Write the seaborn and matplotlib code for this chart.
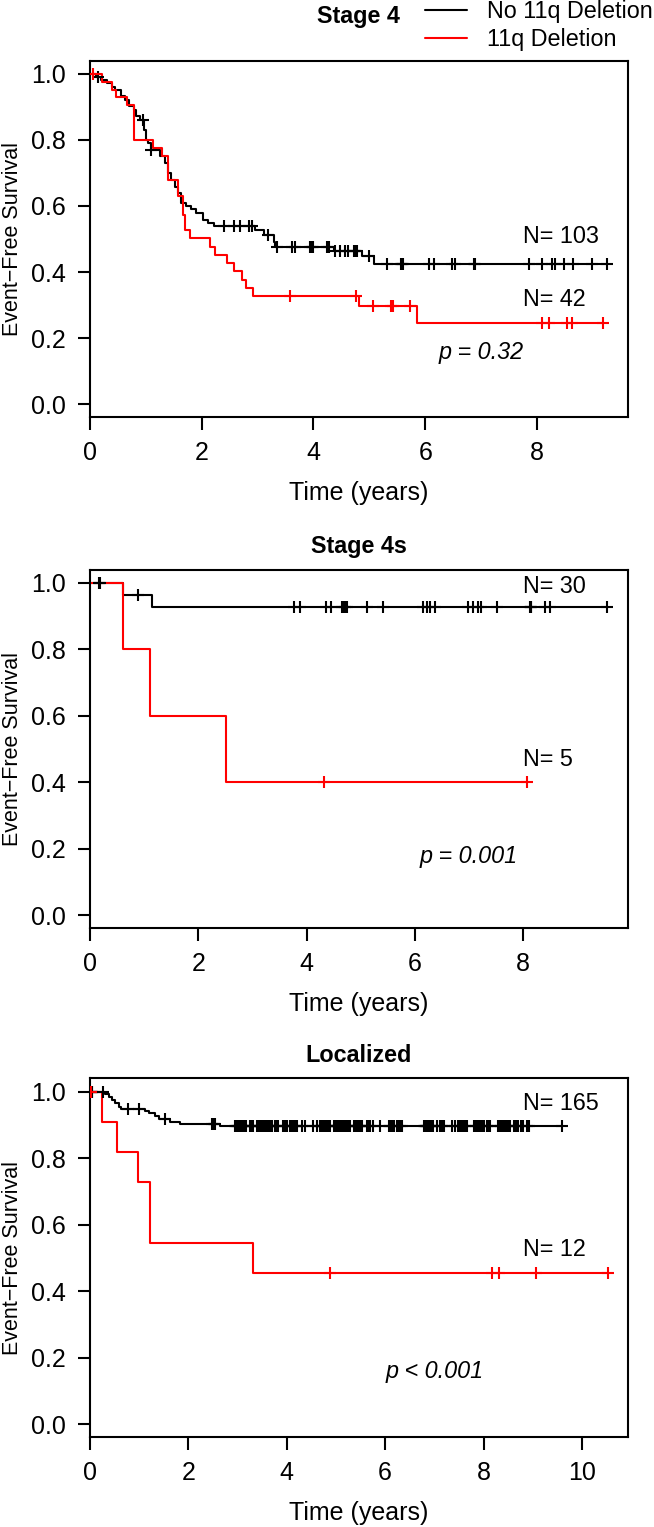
import numpy as np
import pandas as pd
import seaborn as sns
import matplotlib.pyplot as plt
from matplotlib.lines import Line2D

# ---- data ----
# Stage 4
s4_no_t = [0.10, 0.20, 0.30, 0.40, 0.45, 0.55, 0.62, 0.70, 0.78, 0.83, 0.90, 0.97, 1.00, 1.04, 1.09,
           1.25, 1.35, 1.40, 1.45, 1.52, 1.58, 1.62, 1.72, 1.80, 1.90, 2.02, 2.12, 2.22,
           2.95, 3.12, 3.29, 3.32, 4.36, 4.87, 5.09]
s4_no_s = [0.990, 0.981, 0.971, 0.961, 0.951, 0.932, 0.922, 0.903, 0.891, 0.874, 0.861, 0.830, 0.800, 0.790, 0.770,
           0.750, 0.730, 0.700, 0.679, 0.659, 0.639, 0.610, 0.600, 0.590, 0.578, 0.558, 0.548, 0.538,
           0.528, 0.513, 0.492, 0.477, 0.465, 0.447, 0.424]
s4_no_cens = [0.14, 0.955, 1.10, 2.39, 2.57, 2.69, 2.84, 2.90, 3.19, 3.34, 3.61, 3.67, 3.94, 3.97, 4.00,
              4.24, 4.27, 4.39, 4.48, 4.56, 4.62, 4.72, 4.75, 4.78, 4.99, 5.31, 5.56, 5.58, 5.61,
              6.06, 6.15, 6.48, 6.54, 6.88, 6.90, 7.85, 8.09, 8.27, 8.33, 8.48, 8.65, 8.98, 9.25]
s4_del_t = [0.22, 0.40, 0.47, 0.66, 0.78, 1.13, 1.28, 1.40, 1.58, 1.67, 1.70, 1.79, 2.15, 2.24,
            2.45, 2.57, 2.72, 2.79, 2.92, 4.81, 5.85]
s4_del_s = [0.976, 0.952, 0.929, 0.905, 0.800, 0.775, 0.750, 0.679, 0.629, 0.573, 0.528, 0.503, 0.477, 0.452,
            0.427, 0.402, 0.376, 0.351, 0.326, 0.296, 0.245]
s4_del_cens = [0.05, 3.58, 4.76, 5.07, 5.38, 5.43, 5.72, 8.09, 8.21, 8.54, 8.63, 9.19]

# Stage 4s
s4s_no_t = [0.61, 1.15]
s4s_no_s = [0.964, 0.927]
s4s_no_cens = [0.17, 0.18, 0.89, 3.77, 3.88, 4.35, 4.45, 4.65, 4.68, 4.71, 4.74, 5.11, 5.41, 6.15, 6.22,
               6.28, 6.37, 6.98, 7.08, 7.17, 7.23, 7.51, 8.12, 8.14, 8.15, 8.40, 8.50, 9.55]
s4s_del_t = [0.61, 1.11, 2.51]
s4s_del_s = [0.8, 0.6, 0.4]
s4s_del_cens = [4.33, 8.07]

# Localized
loc_no_t = [0.31, 0.39, 0.44, 0.51, 0.58, 0.64, 1.12, 1.19, 1.32, 1.41, 1.63, 1.83, 2.64]
loc_no_s = [0.994, 0.983, 0.975, 0.965, 0.955, 0.948, 0.942, 0.935, 0.927, 0.917, 0.910, 0.902, 0.897]
loc_no_cens = [0.02, 0.03, 0.04, 0.05, 0.26, 0.78, 1.00, 1.53, 2.47, 2.52, 2.54,
               2.95, 2.97, 2.99, 3.01, 3.03, 3.05, 3.08, 3.10, 3.12, 3.15, 3.18, 3.25, 3.28, 3.32,
               3.39, 3.41, 3.43, 3.45, 3.47, 3.50, 3.53, 3.56, 3.58, 3.60, 3.62, 3.64, 3.66, 3.68, 3.70,
               3.76, 3.79, 3.83, 3.93, 3.96, 4.00, 4.07, 4.09, 4.11, 4.13, 4.16, 4.18, 4.20, 4.31, 4.37,
               4.54, 4.61, 4.68, 4.70, 4.72, 4.74, 4.76, 4.78, 4.81, 4.83, 4.86, 4.88, 4.95, 4.98, 5.01,
               5.04, 5.07, 5.10, 5.12, 5.15, 5.19, 5.22, 5.25, 5.29, 5.36, 5.38, 5.40, 5.42, 5.44, 5.46,
               5.49, 5.51, 5.53, 5.63, 5.66, 5.69, 5.76, 5.90, 6.07, 6.10, 6.13, 6.17, 6.24, 6.27, 6.30,
               6.34, 6.78, 6.80, 6.82, 6.84, 6.86, 6.88, 6.90, 6.92, 6.94, 6.96, 6.98, 7.05, 7.12, 7.15,
               7.19, 7.36, 7.42, 7.49, 7.52, 7.55, 7.58, 7.62, 7.66, 7.80, 7.84, 7.88, 7.92, 7.96, 8.00,
               8.07, 8.10, 8.14, 8.30, 8.33, 8.36, 8.39, 8.42, 8.45, 8.48, 8.51, 8.54, 8.61, 8.66, 8.71,
               8.76, 8.81, 8.88, 8.93, 9.59]
loc_del_t = [0.25, 0.54, 0.98, 1.22, 3.32]
loc_del_s = [0.909, 0.818, 0.727, 0.545, 0.455]
loc_del_cens = [0.03, 4.88, 8.17, 8.32, 9.07, 10.52]

panels = ["Stage 4", "Stage 4s", "Localized"]
n_labels = [("N= 103", "N= 42"), ("N= 30", "N= 5"), ("N= 165", "N= 12")]
p_labels = ["p = 0.32", "p = 0.001", "p < 0.001"]
legend_labels = ["No 11q Deletion", "11q Deletion"]

sns.set_style("ticks")
plt.rcParams['font.family'] = ['Liberation Sans', 'DejaVu Sans']
plt.rcParams['axes.edgecolor'] = 'black'
plt.rcParams['text.color'] = 'black'
plt.rcParams['xtick.color'] = 'black'
plt.rcParams['ytick.color'] = 'black'
plt.rcParams['axes.labelcolor'] = 'black'

FS_AX = 18     # tick labels, x label
FS_Y = 15.5    # rotated y label
FS_TXT = 16.8  # titles, legend, annotations
LW = 1.5


def km(ax, t, s, cens, color):
    t_end = max(max(cens), max(t))
    df = pd.DataFrame({"time": [0] + list(t) + [t_end],
                       "surv": [1.0] + list(s) + [s[-1]]})
    sns.lineplot(data=df, x="time", y="surv", drawstyle="steps-post", color=color,
                 lw=LW, estimator=None, sort=False, ax=ax)
    levels = np.r_[1.0, s]
    cy = levels[np.searchsorted(t, cens, side="right")]
    sns.scatterplot(x=cens, y=cy, marker="+", s=75, color=color, linewidth=LW,
                    ax=ax, zorder=3)


fig = plt.figure(figsize=(6.54, 15.27), dpi=100)

# axes boxes in pixels: (top, bottom)
boxes = [(60.7, 417.3), (569.7, 928.3), (1078.4, 1437.3)]
title_y = [16, 546, 1055]
xmaxes = [9.625, 9.93, 10.93]
xticks = [[0, 2, 4, 6, 8], [0, 2, 4, 6, 8], [0, 2, 4, 6, 8, 10]]
data = [
    ((s4_no_t, s4_no_s, s4_no_cens), (s4_del_t, s4_del_s, s4_del_cens)),
    ((s4s_no_t, s4s_no_s, s4s_no_cens), (s4s_del_t, s4s_del_s, s4s_del_cens)),
    ((loc_no_t, loc_no_s, loc_no_cens), (loc_del_t, loc_del_s, loc_del_cens)),
]
n_pos = [(7.75, 0.508, 0.316), (7.99, 0.989, 0.467), (8.80, 0.965, 0.524)]
p_pos = [(7.0, 0.155), (7.0, 0.175), (7.0, 0.157)]

W, H = 654, 1527
left, right = 90, 627.7
for i in range(3):
    top, bot = boxes[i]
    ax = fig.add_axes([left / W, 1 - bot / H, (right - left) / W, (bot - top) / H])
    no, dl = data[i]
    km(ax, *no, "black")
    km(ax, *dl, "red")
    ax.set_xlim(0, xmaxes[i])
    ax.set_ylim(-0.04, 1.04)
    ax.set_xticks(xticks[i])
    ax.set_yticks([0, 0.2, 0.4, 0.6, 0.8, 1.0])
    ax.set_yticklabels(["0.0", "0.2", "0.4", "0.6", "0.8", "1.0"])
    ax.tick_params(length=9, width=LW, labelsize=FS_AX)
    ax.tick_params(axis="x", pad=8)
    ax.tick_params(axis="y", pad=8.5)
    for sp in ax.spines.values():
        sp.set_linewidth(LW)
        sp.set_color("black")
    ax.set_xlabel("Time (years)", fontsize=FS_AX)
    ax.set_ylabel("Event\u2212Free Survival", fontsize=FS_Y)
    ax.xaxis.label.set_va("center")
    ax.yaxis.label.set_va("center")
    ax.xaxis.set_label_coords(0.5, -75.7 / (bot - top))
    ax.yaxis.set_label_coords((13 - left) / (right - left), 0.5)

    nx, ny1, ny2 = n_pos[i]
    ax.text(nx, ny1, n_labels[i][0], fontsize=FS_TXT, ha="left", va="center")
    ax.text(nx, ny2, n_labels[i][1], fontsize=FS_TXT, ha="left", va="center")
    ax.text(p_pos[i][0], p_pos[i][1], p_labels[i], fontsize=FS_TXT, ha="center", va="center",
            style="italic")

    fig.text((left + right) / 2 / W, 1 - title_y[i] / H, panels[i], fontsize=FS_TXT,
             fontweight="bold", ha="center", va="center")

handles = [Line2D([], [], color="black", lw=LW), Line2D([], [], color="red", lw=LW)]
fig.legend(handles, legend_labels, loc="upper left", bbox_to_anchor=(425 / W, 1.0),
           frameon=False, fontsize=FS_TXT, handlelength=1.8, handletextpad=0.85,
           borderpad=0, borderaxespad=0, labelspacing=0.2)

fig.savefig("out.png", dpi=100)
